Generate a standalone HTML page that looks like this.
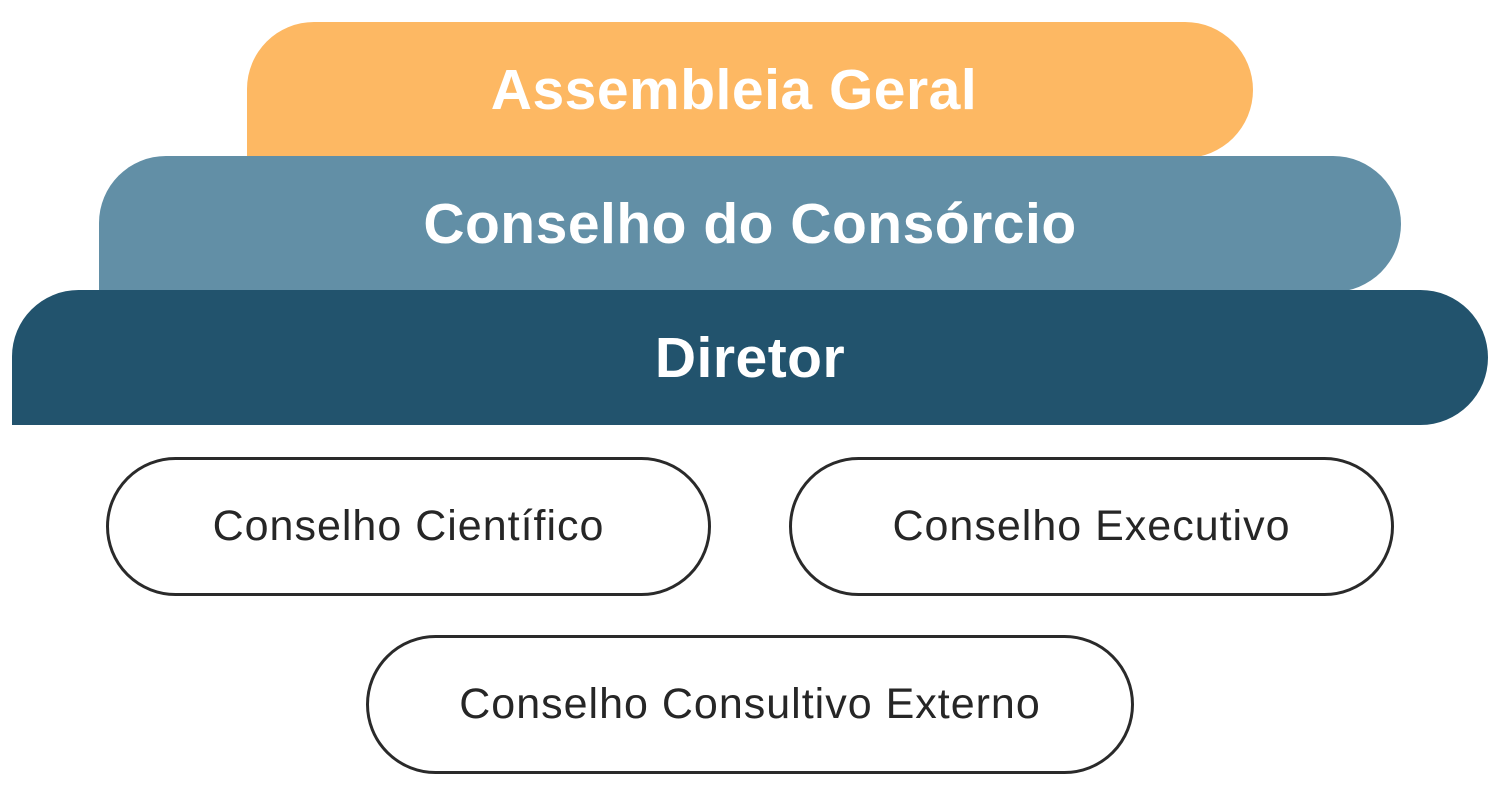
<!DOCTYPE html>
<html><head><meta charset="utf-8"><style>
html,body{margin:0;padding:0;background:#fff;}
body{width:1501px;height:807px;position:relative;overflow:hidden;font-family:"Liberation Sans",sans-serif;}
.b{position:absolute;box-sizing:border-box;display:flex;align-items:center;justify-content:center;color:#fff;font-weight:bold;font-size:57px;letter-spacing:0.5px;}
.o{position:absolute;box-sizing:border-box;border:3px solid #2a2a2a;border-radius:70px;display:flex;align-items:center;justify-content:center;color:#262626;font-size:43px;letter-spacing:1px;}
</style></head><body>
<div class="b" style="left:247px;top:22px;width:1006px;height:136px;background:#FDB863;border-radius:67px 68px 68px 0;padding-right:32px;">Assembleia Geral</div>
<div class="b" style="left:99px;top:156px;width:1302px;height:136px;background:#628FA6;border-radius:67px 68px 68px 0;">Conselho do Consórcio</div>
<div class="b" style="left:12px;top:290px;width:1476px;height:135px;background:#22536D;border-radius:67px 68px 68px 0;">Diretor</div>
<div class="o" style="left:106px;top:457px;width:605px;height:139px;">Conselho Científico</div>
<div class="o" style="left:789px;top:457px;width:605px;height:139px;">Conselho Executivo</div>
<div class="o" style="left:366px;top:635px;width:768px;height:139px;">Conselho Consultivo Externo</div>
</body></html>
